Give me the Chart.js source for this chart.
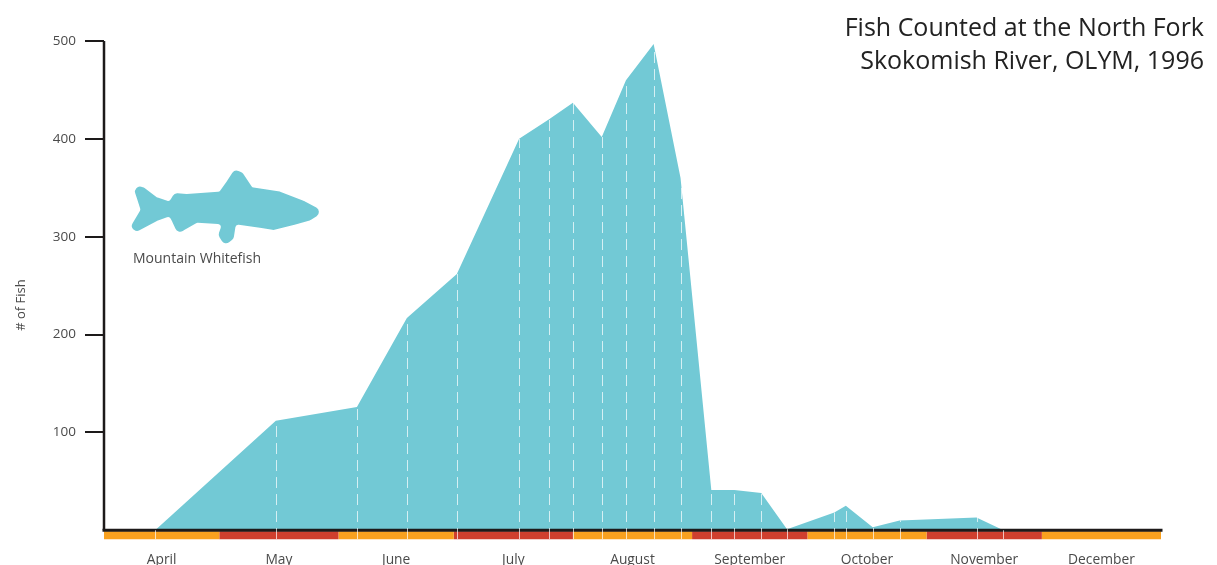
<!DOCTYPE html>
<html>
<head>
<meta charset="utf-8">
<script src="https://cdn.jsdelivr.net/npm/chart.js@4"></script>
<style>
html,body{margin:0;padding:0;background:#fff;overflow:hidden}
#wrap{position:relative;width:1217px;height:565px}
#title{position:absolute;right:13px;top:10px;text-align:right;font:25px/33px "Open Sans",sans-serif;color:#222;white-space:nowrap}
canvas{display:block}
</style>
</head>
<body>
<div id="wrap">
<canvas id="c" width="1217" height="565"></canvas>
<div id="title">Fish Counted at the North Fork<br>Skokomish River, OLYM, 1996</div>
</div>
<script>
// Days counted from 1 April 1996
const surveyDays = [13.3,44.7,65.8,78.8,91.8,108,115.8,122,129.5,135.8,143,150,158,164,171,177.7,190,193,200,207,227,234,275];
const fishCounts = [0,112,126,217,262,400,420,437,402,460,497,360,41,41,38,1,18,25,3,10,13,0,0];
const monthNames = ['April','May','June','July','August','September','October','November','December'];
const monthStarts = [0,30,61,91,122,153,183,214,244,275];
const yTicks = [100,200,300,400,500];
const bandColors = ['#f9a11f','#cf3f2e'];
const FILL = '#72c9d5', INK = '#1d1a1a', TEXT = '#4a4a4a';
const FONT = '"Open Sans",sans-serif';

const monthBands = monthNames.map((m,i)=>({
  type:'line', label:m+' band',
  data:[{x:monthStarts[i],y:-5},{x:monthStarts[i+1],y:-5}],
  borderColor:bandColors[i%2], borderWidth:8, pointRadius:0, borderCapStyle:'butt', clip:false, order:3
}));

const fishOutline = [[42,78],[70,85],[110,115],[150,128],[165,102],[200,105],[300,98],[320,70],[345,32],[365,40],[395,85],[480,98],[550,125],[605,155],[570,178],[520,192],[460,207],[420,200],[345,190],[338,235],[315,252],[298,225],[310,190],[230,185],[195,205],[175,218],[160,185],[150,165],[110,180],[50,212],[35,200],[65,150]];

const decor = {
  id:'decor',
  afterDatasetsDraw(chart){
    const {ctx,scales:{x,y}} = chart;
    // dashed white drop lines at each survey date
    ctx.save();
    ctx.strokeStyle='rgba(255,255,255,0.7)';
    ctx.lineWidth=1;
    ctx.setLineDash([11,6]);
    surveyDays.slice(0,-1).forEach((d,i)=>{
      const px=Math.round(x.getPixelForValue(d))+0.5;
      ctx.beginPath();
      ctx.moveTo(px,y.getPixelForValue(-9));
      ctx.lineTo(px,y.getPixelForValue(fishCounts[i]));
      ctx.stroke();
    });
    ctx.restore();
    // fish icon with softly rounded corners
    ctx.save();
    ctx.translate(120,160); ctx.scale(1/3,1/3);
    ctx.fillStyle=FILL; ctx.strokeStyle=FILL; ctx.lineWidth=6; ctx.lineJoin='round';
    ctx.beginPath();
    const n=fishOutline.length, a=fishOutline[n-1], b=fishOutline[0];
    ctx.moveTo((a[0]+b[0])/2,(a[1]+b[1])/2);
    fishOutline.forEach((p,i)=>{
      const q=fishOutline[(i+1)%n];
      ctx.arcTo(p[0],p[1],(p[0]+q[0])/2,(p[1]+q[1])/2,12);
    });
    ctx.closePath(); ctx.fill(); ctx.stroke();
    ctx.restore();
    // free text
    ctx.save();
    ctx.fillStyle=TEXT; ctx.font='14px '+FONT; ctx.textBaseline='middle';
    ctx.fillText('Mountain Whitefish',133,259);
    ctx.font='13px '+FONT;
    ctx.translate(21,305); ctx.rotate(-Math.PI/2); ctx.textAlign='center';
    ctx.fillText('# of Fish',0,0);
    ctx.restore();
  }
};

new Chart(document.getElementById('c'),{
  type:'line',
  data:{datasets:[
    {label:'Mountain Whitefish',data:surveyDays.map((d,i)=>({x:d,y:fishCounts[i]})),
     backgroundColor:FILL,borderColor:FILL,borderWidth:0,fill:{value:0},pointRadius:0,tension:0,order:5},
    ...monthBands,
    {label:'baseline',data:[{x:0,y:0},{x:275,y:0}],borderColor:INK,borderWidth:3,pointRadius:0,borderCapStyle:'square',clip:false,order:1},
    {label:'y axis',data:[{x:0,y:0},{x:0,y:500}],borderColor:INK,borderWidth:2.5,pointRadius:0,clip:false,order:1}
  ]},
  options:{
    responsive:false,animation:false,
    layout:{padding:{top:41,right:56,bottom:0,left:0}},
    plugins:{legend:{display:false},tooltip:{enabled:false},title:{display:false}},
    scales:{
      x:{type:'linear',min:0,max:275,
        border:{display:false},grid:{display:false,drawTicks:false},
        afterBuildTicks(s){s.ticks=monthNames.map((m,i)=>({value:(monthStarts[i]+monthStarts[i+1])/2}));},
        afterFit(s){s.height=24;},
        ticks:{autoSkip:false,maxRotation:0,padding:11,color:TEXT,font:{family:FONT,size:13.8},
          callback(v,i){return monthNames[i];}}
      },
      y:{type:'linear',min:-11,max:500,
        border:{display:false},
        grid:{drawOnChartArea:false,drawTicks:true,tickLength:19,tickColor:INK,lineWidth:2},
        afterBuildTicks(s){s.ticks=yTicks.map(v=>({value:v}));},
        afterFit(s){s.width=104;},
        ticks:{padding:9,color:TEXT,font:{family:FONT,size:13.5}}
      }
    }
  },
  plugins:[decor]
});
</script>
</body>
</html>
